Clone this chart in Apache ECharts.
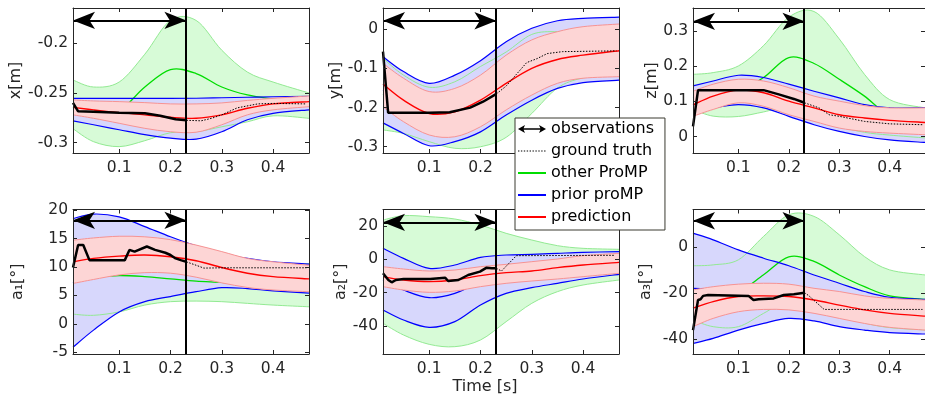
<!DOCTYPE html>
<html>
<head>
<meta charset="utf-8">
<script src="https://cdn.jsdelivr.net/npm/echarts@6/dist/echarts.min.js"></script>
<style>html,body{margin:0;padding:0;background:#fff;}#c{width:925px;height:400px;}</style>
</head>
<body>
<div id="c"></div>
<script>
// ---------- shared ----------
const T = [0.01, 0.05, 0.10, 0.15, 0.20, 0.25, 0.30, 0.35, 0.40, 0.47];
const xTicks = [0.1, 0.2, 0.3, 0.4];
const obsEnd = 0.231;

// ---------- x[m] ----------
const xOtherHi  = [-0.237,-0.244,-0.239,-0.211,-0.177,-0.177,-0.207,-0.229,-0.239,-0.250];
const xOtherLo  = [-0.286,-0.299,-0.304,-0.298,-0.290,-0.289,-0.284,-0.279,-0.273,-0.2755];
const xOtherMid = [-0.264,-0.272,-0.268,-0.244,-0.2265,-0.2305,-0.244,-0.252,-0.256,-0.260];
const xPriorHi  = [-0.2555,-0.2555,-0.2555,-0.2555,-0.2555,-0.2553,-0.2548,-0.2543,-0.2538,-0.2535];
const xPriorLo  = [-0.278,-0.282,-0.287,-0.292,-0.2955,-0.2965,-0.289,-0.277,-0.2705,-0.267];
const xPriorMid = [-0.2668,-0.2688,-0.2713,-0.2738,-0.2755,-0.2759,-0.2719,-0.2657,-0.2622,-0.2603];
const xPredHi   = [-0.257,-0.258,-0.2587,-0.2597,-0.261,-0.261,-0.260,-0.2575,-0.2554,-0.253];
const xPredLo   = [-0.272,-0.2755,-0.2805,-0.2856,-0.289,-0.2895,-0.282,-0.272,-0.267,-0.2638];
const xPredMid  = [-0.2645,-0.267,-0.2698,-0.272,-0.2745,-0.2755,-0.272,-0.2654,-0.261,-0.2587];
const xObsT     = [0.01,0.02,0.05,0.10,0.15,0.18,0.21,0.231];
const xObs      = [-0.260,-0.2685,-0.269,-0.270,-0.2705,-0.273,-0.2765,-0.2775];
const xTruthT   = [0.231,0.26,0.28,0.30,0.33,0.37,0.40,0.465];
const xTruth    = [-0.2775,-0.278,-0.2755,-0.272,-0.265,-0.261,-0.2605,-0.261];

// ---------- y[m] ----------
const yOtherHi  = [-0.074,-0.117,-0.148,-0.134,-0.095,-0.058,-0.013,-0.006,-0.012,-0.020];
const yOtherLo  = [-0.257,-0.266,-0.287,-0.304,-0.300,-0.276,-0.215,-0.150,-0.124,-0.112];
const yOtherMid = [-0.165,-0.190,-0.218,-0.219,-0.197,-0.167,-0.114,-0.078,-0.068,-0.066];
const yPriorHi  = [-0.070,-0.108,-0.138,-0.117,-0.080,-0.0315,0.0026,0.022,0.028,0.031];
const yPriorLo  = [-0.239,-0.266,-0.2975,-0.287,-0.262,-0.219,-0.181,-0.151,-0.136,-0.130];
const yPriorMid = [-0.1545,-0.187,-0.218,-0.202,-0.171,-0.125,-0.089,-0.0645,-0.054,-0.0495];
const yPredHi   = [-0.087,-0.125,-0.159,-0.151,-0.117,-0.066,-0.027,-0.006,0.0068,0.0136];
const yPredLo   = [-0.198,-0.236,-0.270,-0.2745,-0.249,-0.206,-0.168,-0.138,-0.125,-0.121];
const yPredMid  = [-0.140,-0.181,-0.215,-0.2106,-0.181,-0.138,-0.0997,-0.077,-0.066,-0.0546];
const yObsT     = [0.01,0.02,0.10,0.14,0.18,0.205,0.231];
const yObs      = [-0.057,-0.213,-0.213,-0.212,-0.200,-0.185,-0.165];
const yTruthT   = [0.231,0.25,0.27,0.29,0.31,0.33,0.36,0.465];
const yTruth    = [-0.165,-0.145,-0.115,-0.085,-0.075,-0.062,-0.057,-0.055];

// ---------- z[m] ----------
const zOtherHi  = [0.177,0.182,0.201,0.259,0.340,0.356,0.278,0.177,0.105,0.0815];
const zOtherLo  = [0.077,0.058,0.057,0.070,0.085,0.065,0.030,0.012,0.004,-0.004];
const zOtherMid = [0.127,0.120,0.130,0.168,0.225,0.208,0.163,0.115,0.060,0.040];
const zPriorHi  = [0.144,0.158,0.1745,0.168,0.149,0.129,0.110,0.091,0.0815,0.0815];
const zPriorLo  = [0.077,0.0815,0.091,0.0815,0.0575,0.0336,0.0144,0.0,-0.0096,-0.017];
const zPriorMid = [0.1105,0.120,0.133,0.125,0.103,0.081,0.062,0.0455,0.036,0.032];
const zPredHi   = [0.129,0.149,0.163,0.158,0.139,0.115,0.1007,0.088,0.0815,0.0815];
const zPredLo   = [0.0575,0.077,0.096,0.086,0.062,0.043,0.024,0.0144,0.0096,0.005];
const zPredMid  = [0.090,0.115,0.132,0.1246,0.1007,0.0815,0.062,0.0527,0.046,0.040];
const zObsT     = [0.01,0.02,0.15,0.18,0.21,0.231];
const zObs      = [0.029,0.132,0.132,0.120,0.107,0.096];
const zTruthT   = [0.231,0.26,0.28,0.30,0.35,0.40,0.465];
const zTruth    = [0.096,0.0815,0.062,0.0575,0.043,0.036,0.0336];

// ---------- a1 ----------
const a1OtherHi  = [13.9,14.9,14.9,13.3,11.9,11.0,10.7,10.4,10.5,10.6];
const a1OtherLo  = [1.7,1.5,2.1,3.3,3.9,4.0,3.9,3.6,3.3,3.0];
const a1OtherMid = [7.8,8.2,8.5,8.3,7.9,7.5,7.3,7.0,6.9,6.8];
const a1PriorHi  = [18.5,19.3,18.8,17.1,15.3,13.7,12.4,11.5,10.9,10.5];
const a1PriorLo  = [-4.1,-1.1,2.1,3.9,4.8,5.65,6.35,6.2,5.8,5.4];
const a1PriorMid = [7.2,9.1,10.45,10.5,10.05,9.7,9.4,8.85,8.35,7.95];
const a1PredHi   = [14.7,15.1,15.4,15.3,14.8,13.85,12.7,11.5,10.9,10.3];
const a1PredLo   = [7.1,7.8,8.6,9.0,8.9,8.2,7.2,6.4,5.95,5.65];
const a1PredMid  = [10.9,11.5,11.9,12.1,11.8,11.1,9.9,8.9,8.3,7.9];
const a1ObsT     = [0.01,0.02,0.03,0.042,0.111,0.12,0.13,0.154,0.17,0.19,0.20,0.21,0.22,0.231];
const a1Obs      = [9.9,13.85,13.85,11.2,11.2,13.0,12.7,13.6,13.0,12.5,12.1,11.5,11.2,10.9];
const a1TruthT   = [0.231,0.25,0.265,0.30,0.465];
const a1Truth    = [10.9,10.3,9.8,9.85,9.85];

// ---------- a2 ----------
const a2OtherHi  = [23.6,26.2,25.6,24.2,20.6,15.6,11.6,8.2,6.6,6.0];
const a2OtherLo  = [-38.4,-45.4,-51.0,-52.4,-48.4,-37.4,-26.4,-19.4,-15.4,-12.4];
const a2OtherMid = [-7.4,-9.6,-12.7,-14.1,-13.9,-10.9,-7.4,-5.6,-4.4,-3.2];
const a2PriorHi  = [6.6,0.6,-5.4,-3.4,1.2,2.6,3.0,3.6,4.2,4.6];
const a2PriorLo  = [-30.4,-36.4,-40.8,-37.4,-27.4,-20.4,-17.0,-14.4,-11.8,-9.0];
const a2PriorMid = [-12.4,-18.4,-23.0,-20.4,-13.4,-9.0,-7.0,-5.4,-3.8,-2.2];
const a2PredHi   = [-4.4,-5.8,-7.0,-6.4,-4.4,-3.0,-1.4,0.2,2.2,3.6];
const a2PredLo   = [-16.4,-18.4,-19.8,-19.0,-16.4,-14.4,-13.0,-11.8,-10.4,-8.4];
const a2PredMid  = [-10.4,-12.4,-13.4,-12.4,-9.8,-8.0,-7.0,-5.0,-3.4,-1.8];
const a2ObsT     = [0.01,0.0204,0.027,0.035,0.05,0.102,0.131,0.137,0.157,0.176,0.199,0.212,0.222,0.231];
const a2Obs      = [-8.4,-12.4,-13.8,-12.4,-11.8,-11.8,-11.0,-13.0,-12.4,-9.4,-7.4,-5.0,-5.4,-5.4];
const a2TruthT   = [0.231,0.241,0.27,0.46];
const a2Truth    = [-5.4,-7.0,2.2,2.4];

// ---------- a3 ----------
const a3OtherHi  = [-8.1,-7.7,-5.5,4.7,14.1,13.4,5.4,-4.1,-9.9,-12.1];
const a3OtherLo  = [-31.7,-34.6,-34.6,-28.8,-23.0,-25.0,-30.0,-33.0,-35.0,-36.0];
const a3OtherMid = [-19.3,-21.0,-19.5,-12.0,-4.2,-6.2,-12.1,-17.2,-21.2,-22.7];
const a3PriorHi  = [6.1,3.2,-1.2,-4.8,-8.1,-12.1,-15.7,-19.3,-21.8,-22.7];
const a3PriorLo  = [-41.9,-39.7,-36.1,-33.2,-31.0,-32.1,-34.6,-36.1,-37.2,-37.8];
const a3PriorMid = [-17.9,-18.2,-18.6,-19.0,-19.5,-22.1,-25.1,-27.7,-29.5,-30.2];
const a3PredHi   = [-18.6,-17.2,-16.1,-15.7,-16.1,-17.9,-19.3,-21.2,-22.3,-23.0];
const a3PredLo   = [-34.6,-31.0,-28.1,-27.1,-27.3,-28.8,-31.0,-33.2,-34.9,-36.1];
const a3PredMid  = [-26.6,-23.7,-21.5,-21.2,-21.5,-23.0,-25.2,-27.3,-28.8,-30.0];
const a3ObsT     = [0.01,0.02,0.025,0.03,0.04,0.12,0.13,0.14,0.17,0.19,0.21,0.231];
const a3Obs      = [-36.1,-23.0,-22.7,-21.2,-20.8,-21.2,-23.0,-22.7,-22.3,-20.8,-20.5,-19.8];
const a3TruthT   = [0.231,0.24,0.27,0.465];
const a3Truth    = [-19.8,-21.2,-27.1,-27.1];

// ---------- axis labels / ticks ----------
const yNames  = ['x[m]', 'y[m]', 'z[m]', 'a\u2081[\u00b0]', 'a\u2082[\u00b0]', 'a\u2083[\u00b0]'];
const yTicks  = [[-0.3,-0.25,-0.2], [-0.3,-0.2,-0.1,0], [0,0.1,0.2,0.3], [-5,0,5,10,15,20], [-40,-20,0,20], [-40,-20,0]];
const yMins   = [-0.3104, -0.316, -0.047, -5.3, -56.8, -46.5];
const yMaxs   = [-0.1645, 0.0545, 0.366, 20.1, 29.9, 16.4];
const arrowYs = [-0.177, 0.022, 0.328, 18.2, 22.2, 11.5];
const legendNames = ['observations', 'ground truth', 'other ProMP', 'prior proMP', 'prediction'];

const plots = [
  {other:[xOtherHi,xOtherLo,xOtherMid], prior:[xPriorHi,xPriorLo,xPriorMid], pred:[xPredHi,xPredLo,xPredMid], obs:[xObsT,xObs], truth:[xTruthT,xTruth]},
  {other:[yOtherHi,yOtherLo,yOtherMid], prior:[yPriorHi,yPriorLo,yPriorMid], pred:[yPredHi,yPredLo,yPredMid], obs:[yObsT,yObs], truth:[yTruthT,yTruth]},
  {other:[zOtherHi,zOtherLo,zOtherMid], prior:[zPriorHi,zPriorLo,zPriorMid], pred:[zPredHi,zPredLo,zPredMid], obs:[zObsT,zObs], truth:[zTruthT,zTruth]},
  {other:[a1OtherHi,a1OtherLo,a1OtherMid], prior:[a1PriorHi,a1PriorLo,a1PriorMid], pred:[a1PredHi,a1PredLo,a1PredMid], obs:[a1ObsT,a1Obs], truth:[a1TruthT,a1Truth]},
  {other:[a2OtherHi,a2OtherLo,a2OtherMid], prior:[a2PriorHi,a2PriorLo,a2PriorMid], pred:[a2PredHi,a2PredLo,a2PredMid], obs:[a2ObsT,a2Obs], truth:[a2TruthT,a2Truth]},
  {other:[a3OtherHi,a3OtherLo,a3OtherMid], prior:[a3PriorHi,a3PriorLo,a3PriorMid], pred:[a3PredHi,a3PredLo,a3PredMid], obs:[a3ObsT,a3Obs], truth:[a3TruthT,a3Truth]}
];

// ---------- layout & style ----------
const FONT = 'DejaVu Sans';
const AX = '#262626';
const gridLefts = [73, 383, 693];
const gridTops = [8, 209.5];
const gridH = [145, 144.5];
const nameGaps = [49, 31, 32, 47, 34, 39];
const C = {
  green: '#00dd00', greenEdge: '#93ea93', greenFill: '#d7fbd7',
  blue: '#0000ff', blueEdge: '#0000ff', blueFill: '#d7d7fc',
  red: '#ff0000', redEdge: '#f79393', redFill: '#fdd5d5'
};

function crPath(pts, cmd) {
  let d = cmd + pts[0][0] + ' ' + pts[0][1];
  for (let i = 0; i < pts.length - 1; i++) {
    const p0 = pts[Math.max(i - 1, 0)], p1 = pts[i], p2 = pts[i + 1], p3 = pts[Math.min(i + 2, pts.length - 1)];
    const c1x = p1[0] + (p2[0] - p0[0]) / 6, c1y = p1[1] + (p2[1] - p0[1]) / 6;
    const c2x = p2[0] - (p3[0] - p1[0]) / 6, c2y = p2[1] - (p3[1] - p1[1]) / 6;
    d += ' C' + c1x + ' ' + c1y + ' ' + c2x + ' ' + c2y + ' ' + p2[0] + ' ' + p2[1];
  }
  return d;
}

// band = [hi, lo, mid]; part 'fill' draws the shaded area, 'lines' draws both edges and the mean
function bandSeries(gi, name, band, part, z, st) {
  const hi = band[0], lo = band[1], mid = band[2];
  return {
    type: 'custom', name: name, xAxisIndex: gi * 2, yAxisIndex: gi * 2, silent: true, z: z,
    encode: {x: 0, y: [1, 2, 3]},
    itemStyle: {color: st.mean || st.fill},
    data: T.map((t, i) => [t, lo[i], hi[i], mid[i]]),
    renderItem: function (params, api) {
      if (params.dataIndexInside !== 0) return null;
      const n = params.dataInsideLength;
      const up = [], dn = [], md = [];
      for (let i = 0; i < n; i++) {
        const t = api.value(0, i);
        dn.push(api.coord([t, api.value(1, i)]));
        up.push(api.coord([t, api.value(2, i)]));
        md.push(api.coord([t, api.value(3, i)]));
      }
      if (part === 'fill') {
        const dnRev = dn.slice().reverse();
        const head = 'L' + dnRev[0][0] + ' ' + dnRev[0][1];
        const d = crPath(up, 'M') + ' ' + head + crPath(dnRev, 'L').slice(head.length) + ' Z';
        return {type: 'path', shape: {pathData: d}, style: {fill: st.fill, stroke: null}};
      }
      return {type: 'group', children: [
        {type: 'path', shape: {pathData: crPath(up, 'M')}, style: {fill: 'none', stroke: st.edge, lineWidth: st.edgeW}},
        {type: 'path', shape: {pathData: crPath(dn, 'M')}, style: {fill: 'none', stroke: st.edge, lineWidth: st.edgeW}},
        {type: 'path', shape: {pathData: crPath(md, 'M')}, style: {fill: 'none', stroke: st.mean, lineWidth: st.meanW}}
      ]};
    }
  };
}

function lineSeries(gi, name, xs, ys, z, color, width, type) {
  return {
    type: 'line', name: name, xAxisIndex: gi * 2, yAxisIndex: gi * 2, z: z,
    data: xs.map((t, i) => [t, ys[i]]),
    symbol: 'none', showSymbol: false, smooth: false, silent: true,
    lineStyle: {color: color, width: width, type: type},
    itemStyle: {color: color}
  };
}

const grids = [], xAxes = [], yAxes = [], series = [];
plots.forEach((p, gi) => {
  const col = gi % 3, row = Math.floor(gi / 3);
  grids.push({left: gridLefts[col], top: gridTops[row], width: 236, height: gridH[row]});
  [false, true].forEach(top => {
    const ax = {
      type: 'value', gridIndex: gi, position: top ? 'top' : 'bottom', z: 30,
      min: T[0], max: T[T.length - 1],
      axisLine: {show: true, onZero: false, lineStyle: {color: AX, width: 1}},
      axisTick: {show: true, inside: true, length: 4, customValues: xTicks, lineStyle: {color: AX}},
      axisLabel: {show: !top, customValues: xTicks, margin: 7, fontSize: 15.5, color: AX, fontFamily: FONT},
      splitLine: {show: false}
    };
    if (gi === 4 && !top) {
      ax.name = 'Time [s]'; ax.nameLocation = 'middle'; ax.nameGap = 25;
      ax.nameTextStyle = {fontSize: 16, color: AX, fontFamily: FONT, padding: [0, 32, 0, 0]};
    }
    xAxes.push(ax);
  });
  [false, true].forEach(right => {
    const ax = {
      type: 'value', gridIndex: gi, position: right ? 'right' : 'left', z: 30,
      min: yMins[gi], max: yMaxs[gi],
      axisLine: {show: true, onZero: false, lineStyle: {color: AX, width: 1}},
      axisTick: {show: true, inside: true, length: 4, customValues: yTicks[gi], lineStyle: {color: AX}},
      axisLabel: {show: !right, customValues: yTicks[gi], margin: 5, fontSize: 15.5, color: AX, fontFamily: FONT},
      splitLine: {show: false}
    };
    if (!right) {
      ax.name = yNames[gi]; ax.nameLocation = 'middle'; ax.nameRotate = 90; ax.nameGap = nameGaps[gi];
      ax.nameTextStyle = {fontSize: 16, color: AX, fontFamily: FONT};
    }
    yAxes.push(ax);
  });

  const gSt = {fill: C.greenFill, edge: C.greenEdge, edgeW: 1, mean: C.green, meanW: 1.3};
  const bSt = {fill: C.blueFill, edge: C.blueEdge, edgeW: 1.2, mean: C.blue, meanW: 1.2};
  const rSt = {fill: C.redFill, edge: C.redEdge, edgeW: 1, mean: C.red, meanW: 1.4};
  // drawing order follows z: green/blue fills, their edges and means, red band on top, then black marks
  series.push(bandSeries(gi, 'other fill', p.other, 'fill', 1, gSt));
  series.push(bandSeries(gi, 'prior fill', p.prior, 'fill', 2, bSt));
  series.push(bandSeries(gi, 'other ProMP', p.other, 'lines', 3, gSt));
  series.push(bandSeries(gi, 'prior proMP', p.prior, 'lines', 4, bSt));
  series.push(bandSeries(gi, 'prediction fill', p.pred, 'fill', 5, rSt));
  series.push(bandSeries(gi, 'prediction', p.pred, 'lines', 6, rSt));
  const truth = lineSeries(gi, 'ground truth', p.truth[0], p.truth[1], 10, '#000', 1, [1.5, 1.5]);
  truth.markLine = {
    silent: true, symbol: 'none', animation: false, z: 20,
    label: {show: false}, lineStyle: {color: '#000', width: 2, type: 'solid'},
    data: [{xAxis: obsEnd}]
  };
  series.push(truth);
  const obs = lineSeries(gi, 'observations', p.obs[0], p.obs[1], 11, '#000', 2.5, 'solid');
  obs.markLine = {
    silent: true, symbol: ['arrow', 'arrow'], symbolSize: [13, 22], animation: false, z: 21,
    label: {show: false}, lineStyle: {color: '#000', width: 2, type: 'solid'},
    data: [[{coord: [T[0], arrowYs[gi]]}, {coord: [obsEnd, arrowYs[gi]]}]]
  };
  series.push(obs);
});

// legend icons (28 x 8 boxes)
let dotted = 'path://M0,0h0.01v0.01h-0.01z M28,8h-0.01v-0.01h0.01z';
for (let k = 0; k < 10; k++) dotted += ' M' + (k * 2.9) + ',3.4h1.4v1.2h-1.4z';
const solidIcon = 'path://M0,0h0.01v0.01h-0.01z M28,8h-0.01v-0.01h0.01z M0,3h28v2h-28z';
const arrowIcon = 'path://M0,4L7,0L5.6,3.3L22.4,3.3L21,0L28,4L21,8L22.4,4.7L5.6,4.7L7,8Z';

const chart = echarts.init(document.getElementById('c'), null, {renderer: 'canvas'});
chart.setOption({
  animation: false,
  backgroundColor: '#fff',
  grid: grids, xAxis: xAxes, yAxis: yAxes, series: series,
  legend: {
    left: 515, top: 118, orient: 'vertical', z: 40,
    backgroundColor: '#fff', borderColor: '#3a3a30', borderWidth: 1, borderRadius: 0,
    padding: [3, 11, 5, 3], itemGap: 6, itemWidth: 28, itemHeight: 8,
    selectedMode: false, symbolKeepAspect: false,
    textStyle: {fontSize: 16, color: '#000', fontFamily: FONT},
    data: [
      {name: legendNames[0], icon: arrowIcon},
      {name: legendNames[1], icon: dotted},
      {name: legendNames[2], icon: solidIcon},
      {name: legendNames[3], icon: solidIcon},
      {name: legendNames[4], icon: solidIcon}
    ]
  }
});
</script>
</body>
</html>
